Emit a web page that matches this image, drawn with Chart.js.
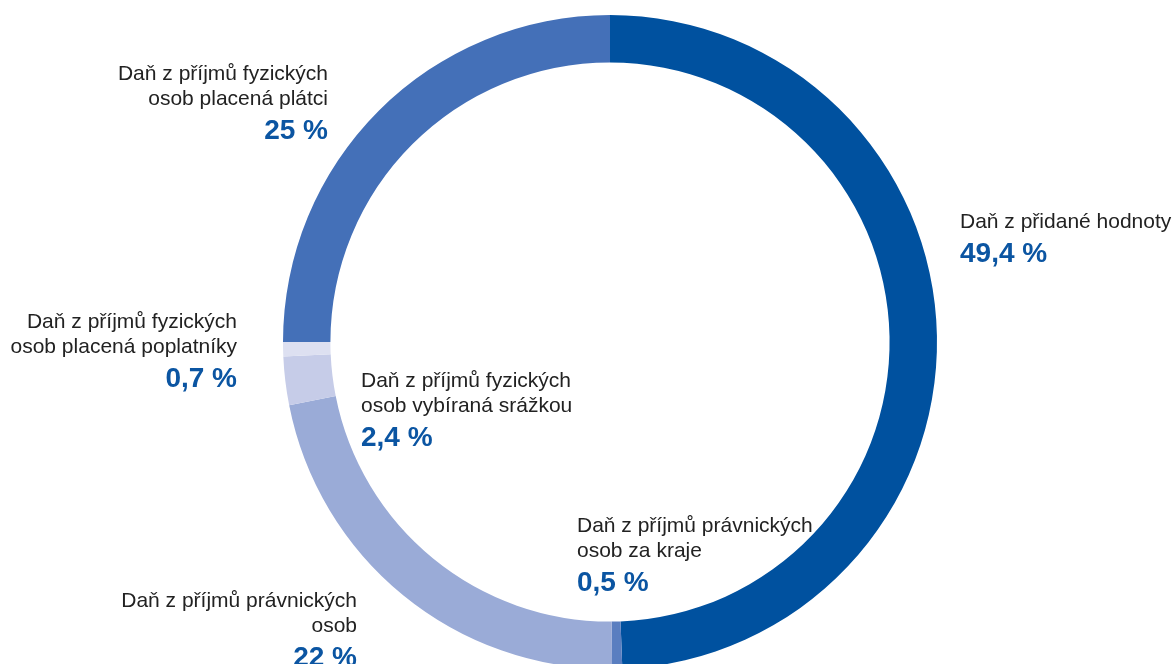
<!DOCTYPE html>
<html lang="cs">
<head>
<meta charset="utf-8">
<script src="https://cdn.jsdelivr.net/npm/chart.js@4"></script>
<style>
  html, body { margin: 0; padding: 0; background: #fff; overflow: hidden; }
  #wrap { position: absolute; left: 0; top: 0; width: 1174px; height: 684px; }
</style>
</head>
<body>
<div id="wrap"><canvas id="graf"></canvas></div>
<script>
// podíly jednotlivých daní (%), po směru hodinových ručiček od 12 h
const kategorie = [
    ['Daň z přidané hodnoty'],
    ['Daň z příjmů právnických', 'osob za kraje'],
    ['Daň z příjmů právnických', 'osob'],
    ['Daň z příjmů fyzických', 'osob vybíraná srážkou'],
    ['Daň z příjmů fyzických', 'osob placená poplatníky'],
    ['Daň z příjmů fyzických', 'osob placená plátci']
];
const hodnoty = [49.4, 0.5, 22, 2.4, 0.7, 25];
const barvy = ['#00519f', '#5a7ec0', '#9aabd7', '#c6cce8', '#dde0f1', '#4470b8'];

// umístění popisků (x, účaří prvního řádku, zarovnání)
const popisky = [
    { x: 960, y: 228, align: 'left' },
    { x: 577, y: 532, align: 'left' },
    { x: 357, y: 607, align: 'right' },
    { x: 361, y: 387, align: 'left' },
    { x: 237, y: 328, align: 'right' },
    { x: 328, y: 80,  align: 'right' }
];

const pluginPopisky = {
    id: 'popisky',
    afterDraw(chart) {
        const ctx = chart.ctx;
        ctx.save();
        popisky.forEach((p, i) => {
            ctx.textAlign = p.align;
            ctx.textBaseline = 'alphabetic';
            ctx.fillStyle = '#222';
            ctx.font = '21px "Liberation Sans", Arial, sans-serif';
            let y = p.y;
            kategorie[i].forEach((t, j) => {
                ctx.fillText(t, p.x, y);
                if (j < kategorie[i].length - 1) y += 25;
            });
            ctx.fillStyle = '#0b55a2';
            ctx.font = 'bold 28px "Liberation Sans", Arial, sans-serif';
            ctx.fillText(String(hodnoty[i]).replace('.', ',') + ' %', p.x, y + 34);
        });
        ctx.restore();
    }
};

new Chart(document.getElementById('graf'), {
    type: 'doughnut',
    data: {
        labels: kategorie.map(k => k.join(' ')),
        datasets: [{
            data: hodnoty,
            backgroundColor: barvy,
            borderWidth: 0
        }]
    },
    options: {
        responsive: true,
        maintainAspectRatio: false,
        animation: false,
        cutout: '85.5%',
        layout: { padding: { left: 283, right: 237, top: 15, bottom: 15 } },
        plugins: { legend: { display: false }, tooltip: { enabled: false } }
    },
    plugins: [pluginPopisky]
});
</script>
</body>
</html>
